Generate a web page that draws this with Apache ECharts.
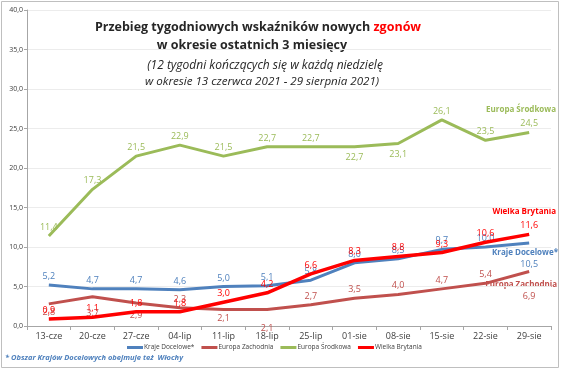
<!DOCTYPE html>
<html><head><meta charset="utf-8">
<script src="https://cdn.jsdelivr.net/npm/echarts@6/dist/echarts.min.js"></script>
<style>html,body{margin:0;padding:0;background:#fff}#c{width:564px;height:371px}</style>
</head><body><div id="c"></div>
<script>
const categories = ['13-cze','20-cze','27-cze','04-lip','11-lip','18-lip','25-lip','01-sie','08-sie','15-sie','22-sie','29-sie'];
const krajeDocelowe = [5.2,4.7,4.7,4.6,5.0,5.1,5.8,8.0,8.5,9.7,10.0,10.5];
const europaZachodnia = [2.8,3.7,2.9,2.3,2.1,2.1,2.7,3.5,4.0,4.7,5.4,6.9];
const europaSrodkowa = [11.4,17.3,21.5,22.9,21.5,22.7,22.7,22.7,23.1,26.1,23.5,24.5];
const wielkaBrytania = [0.9,1.1,1.8,1.8,3.0,4.2,6.6,8.3,8.8,9.3,10.6,11.6];
const yTicks = [0,5,10,15,20,25,30,35,40];

const FONT = 'Open Sans';
const fmt = v => v.toFixed(1).replace('.', ',');

// label placement overrides: index -> [position, distance]
function mk(name, values, color, width, place, z) {
  return {
    name, type: 'line',
    data: values.map((v, i) => place[i]
      ? { value: v, label: { position: place[i][0], distance: place[i][1] } } : v),
    symbol: 'circle', symbolSize: 0.1, showSymbol: true, smooth: false, z,
    lineStyle: { color, width },
    itemStyle: { color },
    label: { show: true, position: 'top', distance: 4, color,
      fontFamily: FONT, fontSize: 9, formatter: p => fmt(p.value) }
  };
}

const chart = echarts.init(document.getElementById('c'));
chart.setOption({
  animation: false,
  textStyle: { fontFamily: FONT },
  grid: { left: 27, right: 13, top: 10, bottom: 45 },
  xAxis: {
    type: 'category', data: categories, boundaryGap: true,
    axisLine: { lineStyle: { color: '#a6a6a6' } },
    axisTick: { show: true, alignWithLabel: false, length: 4, lineStyle: { color: '#a6a6a6' } },
    axisLabel: { color: '#404040', fontSize: 9, fontFamily: FONT, margin: 6 }
  },
  yAxis: {
    type: 'value', min: yTicks[0], max: yTicks[yTicks.length - 1], interval: 5,
    axisLine: { show: true, lineStyle: { color: '#a6a6a6' } },
    axisTick: { show: true, length: 3, lineStyle: { color: '#a6a6a6' } },
    splitLine: { lineStyle: { color: '#ececec' } },
    axisLabel: { color: '#404040', fontSize: 7, fontFamily: FONT, margin: 4, formatter: v => fmt(v) }
  },
  legend: {
    bottom: 15, left: 122, itemWidth: 16, itemHeight: 3, itemGap: 7, icon: 'rect',
    textStyle: { fontSize: 6.5, color: '#404040', fontFamily: FONT, padding: [0, 0, 0, -4] },
    data: ['Kraje Docelowe*', 'Europa Zachodnia', 'Europa Środkowa', 'Wielka Brytania']
  },
  series: [
    mk('Kraje Docelowe*', krajeDocelowe, '#4f81bd', 3, { 11: ['bottom', 17] }, 3),
    mk('Europa Zachodnia', europaZachodnia, '#c0504d', 3,
      { 0: ['bottom', 4], 1: ['bottom', 12], 2: ['bottom', 8], 4: ['bottom', 4], 5: ['bottom', 14], 11: ['bottom', 20] }, 2),
    mk('Europa Środkowa', europaSrodkowa, '#9bbb59', 3, { 7: ['bottom', 6], 8: ['bottom', 6] }, 1),
    mk('Wielka Brytania', wielkaBrytania, '#ff0000', 3.5, {}, 4)
  ],
  graphic: [
    { type: 'rect', shape: { x: 1.5, y: 1.5, width: 557, height: 366 }, style: { fill: null, stroke: '#bfbfbf', lineWidth: 1 }, silent: true },
    { type: 'text', x: 258, y: 21, style: { text: '{a|Przebieg tygodniowych wskaźników nowych }{b|zgonów}', align: 'center',
      rich: { a: { fontFamily: FONT, fontWeight: 'bold', fontSize: 12.5, fill: '#262626' }, b: { fontFamily: FONT, fontWeight: 'bold', fontSize: 12.5, fill: '#ff0000' } } } },
    { type: 'text', x: 252, y: 39, style: { text: 'w okresie ostatnich 3 miesięcy', align: 'center', fontFamily: FONT, fontWeight: 'bold', fontSize: 12.5, fill: '#262626' } },
    { type: 'text', x: 265, y: 60, style: { text: '(12 tygodni kończących się w każdą niedzielę', align: 'center', fontFamily: FONT, fontStyle: 'italic', fontSize: 12, fill: '#262626' } },
    { type: 'text', x: 262, y: 76, style: { text: 'w okresie 13 czerwca 2021 - 29 sierpnia 2021)', align: 'center', fontFamily: FONT, fontStyle: 'italic', fontSize: 11.6, fill: '#262626' } },
    { type: 'text', x: 556, y: 106, style: { text: 'Europa Środkowa', align: 'right', fontFamily: FONT, fontWeight: 'bold', fontSize: 8, fill: '#9bbb59' } },
    { type: 'text', x: 556, y: 208, style: { text: 'Wielka Brytania', align: 'right', fontFamily: FONT, fontWeight: 'bold', fontSize: 8, fill: '#ff0000' } },
    { type: 'text', x: 558, y: 249, style: { text: 'Kraje Docelowe*', align: 'right', fontFamily: FONT, fontWeight: 'bold', fontSize: 8, fill: '#4f81bd' } },
    { type: 'text', x: 557, y: 281, style: { text: 'Europa Zachodnia', align: 'right', fontFamily: FONT, fontWeight: 'bold', fontSize: 8, fill: '#c0504d' } },
    { type: 'text', x: 5, y: 354, style: { text: '* Obszar Krajów Docelowych obejmuje też  Włochy', fontFamily: FONT, fontStyle: 'italic', fontWeight: 'bold', fontSize: 7.5, fill: '#4f81bd' } }
  ]
});
</script></body></html>
